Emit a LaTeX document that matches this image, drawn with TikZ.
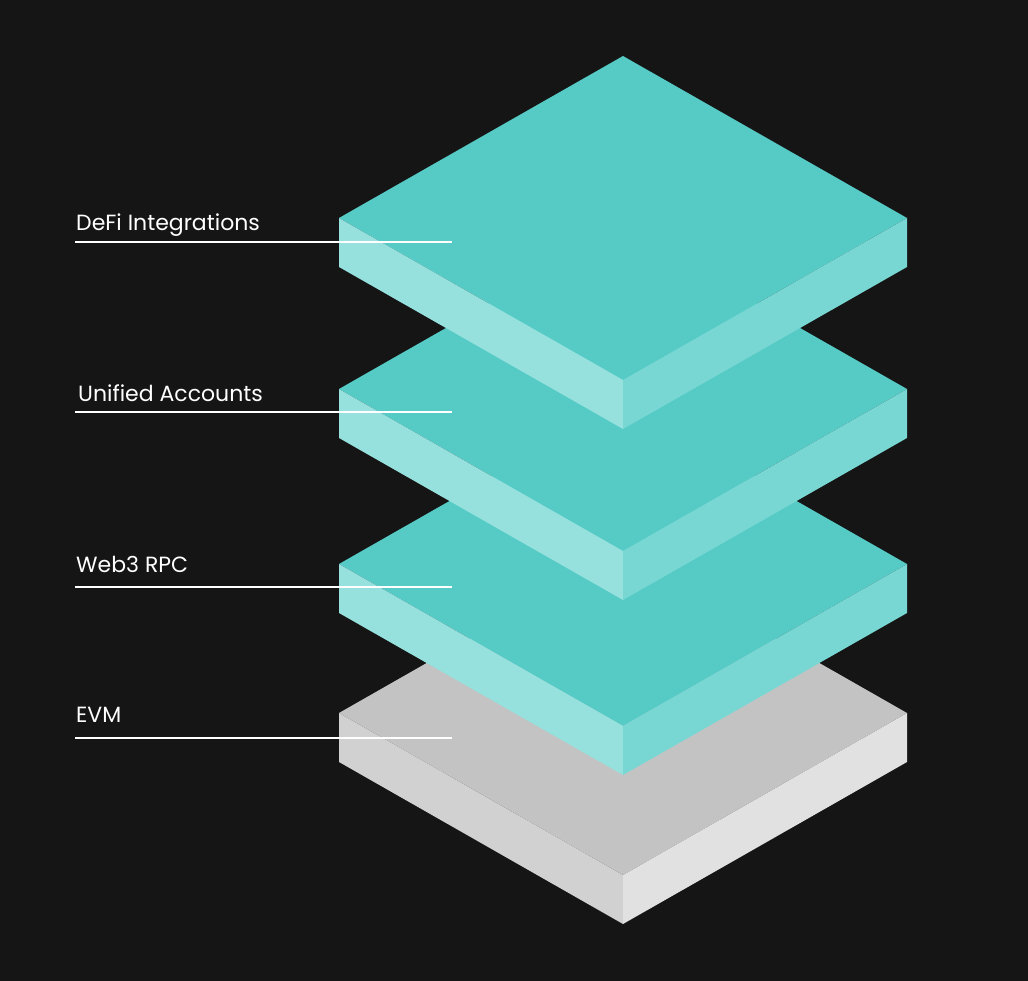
\documentclass[tikz,border=0pt]{standalone}
\usepackage{fontspec}
\setmainfont{Poppins}
\definecolor{bgc}{HTML}{151515}
\definecolor{tealtop}{HTML}{56CBC6}
\definecolor{tealleft}{HTML}{96E1DD}
\definecolor{tealright}{HTML}{79D7D3}
\definecolor{graytop}{HTML}{C3C3C4}
\definecolor{grayleft}{HTML}{D1D1D2}
\definecolor{grayright}{HTML}{E1E1E2}
\newcommand\drawslab[4]{%
  \fill[#2] (339,#1) -- (623,#1-162) -- (907,#1) -- (623,#1+162) -- cycle;
  \fill[#3] (339,#1) -- (623,#1+162) -- (623,#1+211) -- (339,#1+49) -- cycle;
  \fill[#4] (907,#1) -- (623,#1+162) -- (623,#1+211) -- (907,#1+49) -- cycle;
}
\begin{document}
\begin{tikzpicture}[x=1pt,y=-1pt,
  lbl/.style={anchor=base west,inner sep=0pt,text=white,font=\fontsize{22}{26}\selectfont},
  leader/.style={draw=white,line width=1.6pt}]
\fill[bgc] (0,0) rectangle (1028,981);
\useasboundingbox (0,0) rectangle (1028,981);
\drawslab{713}{graytop}{grayleft}{grayright}
\drawslab{564}{tealtop}{tealleft}{tealright}
\drawslab{389}{tealtop}{tealleft}{tealright}
\drawslab{218}{tealtop}{tealleft}{tealright}
\node[lbl] (t1) at (76,231) {DeFi Integrations};
\node[lbl] (t2) at (78,402) {Unified Accounts};
\node[lbl] (t3) at (76,572) {Web3 RPC};
\node[lbl] (t4) at (76,722) {EVM};
\coordinate (a1) at (75,242); \coordinate (b1) at (452,242);
\coordinate (a2) at (75,412); \coordinate (b2) at (452,412);
\coordinate (a3) at (75,587); \coordinate (b3) at (452,587);
\coordinate (a4) at (75,738); \coordinate (b4) at (452,738);
\draw[leader] (a1) -- (b1);
\draw[leader] (a2) -- (b2);
\draw[leader] (a3) -- (b3);
\draw[leader] (a4) -- (b4);
\end{tikzpicture}
\end{document}
